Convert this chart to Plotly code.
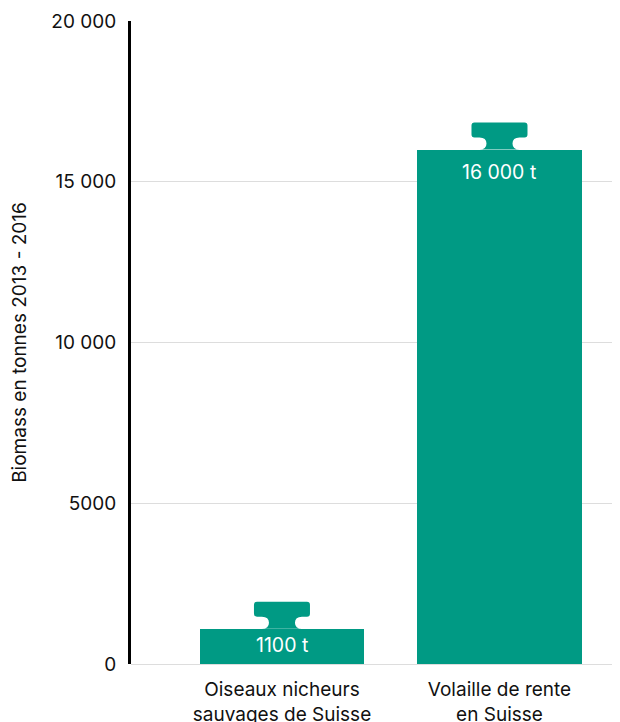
import plotly.graph_objects as go

categories = ["Oiseaux nicheurs<br>sauvages de Suisse", "Volaille de rente<br>en Suisse"]
biomass_t = [1100, 16000]
bar_labels = ["1100 t", "16 000 t"]
tick_vals = [0, 5000, 10000, 15000, 20000]
tick_text = ["0", "5000", "10 000", "15 000", "20 000"]

TEAL = "#009a84"
FONT = "Inter"

fig = go.Figure()
fig.add_trace(go.Bar(
    x=list(range(len(categories))),
    y=biomass_t,
    width=0.755,
    marker=dict(color=TEAL, line=dict(width=0)),
    hoverinfo="skip",
))

# weight handle on top of each bar (pixel-sized, anchored at bar top)
handle = ("M -20,0 Q -13,0 -13,6 Q -13,12 -20,12 L -25,12 Q -28,12 -28,15 "
          "L -28,24 Q -28,27 -25,27 L 25,27 Q 28,27 28,24 L 28,15 Q 28,12 25,12 "
          "L 20,12 Q 13,12 13,6 Q 13,0 20,0 Z")
for i, v in enumerate(biomass_t):
    fig.add_shape(type="path", path=handle, xref="x", yref="y",
                  xsizemode="pixel", ysizemode="pixel", xanchor=i, yanchor=v,
                  fillcolor=TEAL, line=dict(width=0), layer="above")
    fig.add_annotation(x=i, y=v, text=bar_labels[i], showarrow=False,
                       yanchor="top", yshift=-2 if i == 0 else -8,
                       font=dict(family=FONT, size=19.5, color="white"))

fig.update_layout(
    width=620, height=722,
    margin=dict(l=123, r=8, t=13, b=66),
    paper_bgcolor="white", plot_bgcolor="white",
    font=dict(family=FONT, size=19, color="#111"),
    showlegend=False,
    bargap=0,
)
fig.update_xaxes(
    tickvals=list(range(len(categories))), ticktext=categories,
    range=[-0.694, 1.554], showgrid=False, zeroline=False, showline=False,
    ticks="", ticklabelstandoff=12, tickfont=dict(size=19), automargin=False,
)
fig.update_yaxes(
    range=[0, 20000.001], tickvals=tick_vals, ticktext=tick_text,
    showgrid=True, gridcolor="#dddddd", gridwidth=1,
    zeroline=True, zerolinecolor="#dddddd", zerolinewidth=1,
    showline=True, linecolor="black", linewidth=3,
    ticks="", ticklabelstandoff=8, tickfont=dict(size=19),
    ticklabeloverflow="allow", automargin=False,
    title=dict(text="Biomass en tonnes 2013 - 2016", font=dict(size=19), standoff=26),
)

fig.write_html("out.html")
